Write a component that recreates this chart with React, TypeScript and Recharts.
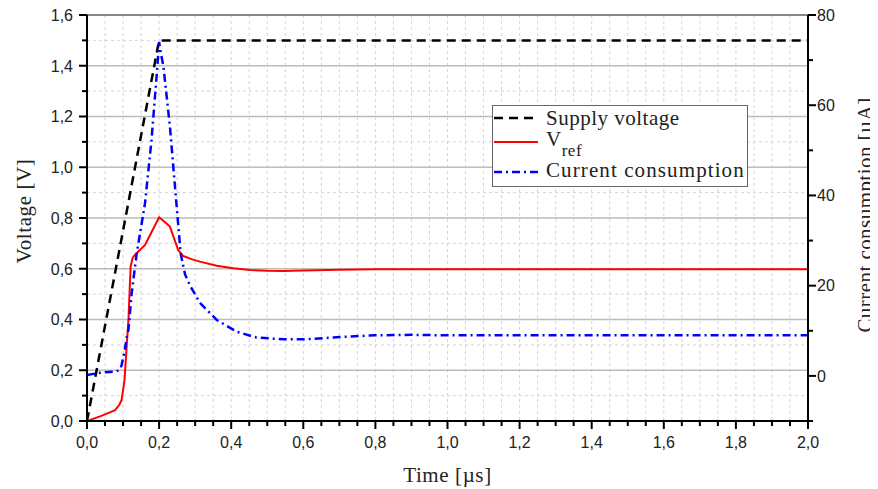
import React from "react";
import {
  CartesianGrid,
  ComposedChart,
  Line,
  ReferenceLine,
  XAxis,
  YAxis,
} from "recharts";

// Supply voltage [V]
const supplyT = [0, 0.2, 2.0];
const supplyV = [0, 1.5, 1.5];

// V_ref [V]
const vrefT = [
  0, 0.04, 0.078, 0.09, 0.096, 0.104, 0.11, 0.115, 0.121, 0.126, 0.13, 0.145,
  0.161, 0.175, 0.2, 0.215, 0.23, 0.253, 0.267, 0.29, 0.313, 0.36, 0.406, 0.452,
  0.5, 0.545, 0.6, 0.7, 0.8, 1.0, 1.2, 1.4, 1.6, 1.8, 2.0,
];
const vrefV = [
  0, 0.02, 0.043, 0.065, 0.083, 0.16, 0.293, 0.4, 0.608, 0.64, 0.65, 0.672,
  0.694, 0.733, 0.803, 0.785, 0.766, 0.674, 0.65, 0.638, 0.628, 0.612, 0.602,
  0.595, 0.592, 0.591, 0.593, 0.596, 0.598, 0.598, 0.598, 0.598, 0.598, 0.598,
  0.598,
];

// Current consumption [µA]
const currT = [
  0, 0.036, 0.082, 0.092, 0.096, 0.105, 0.11, 0.115, 0.124, 0.138, 0.161, 0.179,
  0.193, 0.2, 0.205, 0.212, 0.23, 0.244, 0.26, 0.272, 0.286, 0.313, 0.36, 0.415,
  0.47, 0.545, 0.6, 0.72, 0.8, 0.9, 1.0, 1.2, 1.4, 1.6, 1.8, 2.0,
];
const currI = [
  0.2, 0.7, 1.0, 1.5, 2.4, 5.8, 8.5, 10.2, 18.4, 27.2, 38.3, 52.3, 66.4, 74.0,
  71.5, 68.6, 55.3, 42, 27, 22.5, 20.0, 16.2, 12.4, 9.8, 8.5, 8.1, 8.1, 8.7, 9.0,
  9.1, 9.0, 9.0, 9.0, 9.0, 9.0, 9.0,
];

// axis ticks
const xMinor = Array.from({ length: 41 }, (_, i) => +(i * 0.05).toFixed(2));
const xMajor = [0, 0.2, 0.4, 0.6, 0.8, 1.0, 1.2, 1.4, 1.6, 1.8, 2.0];
const yMinor = Array.from({ length: 17 }, (_, i) => +(i * 0.1).toFixed(1));
const yMajor = [0, 0.2, 0.4, 0.6, 0.8, 1.0, 1.2, 1.4, 1.6];
const rTicks = [-10, 0, 10, 20, 30, 40, 50, 60, 70, 80];
const rLabels = [0, 20, 40, 60, 80];

const supply = supplyT.map((t, i) => ({ t, v: supplyV[i] }));
const vref = vrefT.map((t, i) => ({ t, v: vrefV[i] }));
const curr = currT.map((t, i) => ({ t, v: currI[i] }));

const sans = "'Liberation Sans', Arial, sans-serif";
const serif = "'Liberation Serif', 'Times New Roman', serif";
const comma = (v: number) => v.toFixed(1).replace(".", ",");
const isMajor = (v: number, step: number) =>
  Math.abs(v / step - Math.round(v / step)) < 1e-6;

const XTick = (props: any) => {
  const { x, y, payload } = props;
  const major = isMajor(payload.value, 0.2);
  return (
    <g>
      <line x1={x} x2={x} y1={y} y2={y + (major ? 8 : 5)} stroke="#000" strokeWidth={2} />
      {major && (
        <text x={x} y={y + 27} textAnchor="middle" fontFamily={sans} fontSize={16} fill="#222">
          {comma(payload.value)}
        </text>
      )}
    </g>
  );
};

const YTick = (props: any) => {
  const { x, y, payload } = props;
  const major = isMajor(payload.value, 0.2);
  return (
    <g>
      <line x1={x} x2={x - (major ? 8 : 5)} y1={y} y2={y} stroke="#000" strokeWidth={2} />
      {major && (
        <text x={x - 14} y={y} dy="0.36em" textAnchor="end" fontFamily={sans} fontSize={16} fill="#222">
          {comma(payload.value)}
        </text>
      )}
    </g>
  );
};

const RTick = (props: any) => {
  const { x, y, payload } = props;
  const major = rLabels.includes(payload.value);
  return (
    <g>
      <line x1={x} x2={x + (major ? 8 : 5)} y1={y} y2={y} stroke="#000" strokeWidth={2} />
      {major && (
        <text x={x + 9} y={y} dy="0.36em" textAnchor="start" fontFamily={sans} fontSize={16} fill="#222">
          {payload.value}
        </text>
      )}
    </g>
  );
};

const XTitle = (props: any) => {
  const { x, y, width } = props.viewBox;
  return (
    <text
      x={x + width / 2}
      y={y + 61}
      textAnchor="middle"
      fontFamily={serif}
      fontSize={21}
      letterSpacing={0.6}
      fill="#222"
    >
      Time [µs]
    </text>
  );
};

const VTitle = ({ cx, cy, text, ls }: { cx: number; cy: number; text: string; ls: number }) => (
  <text
    x={cx}
    y={cy}
    transform={`rotate(-90 ${cx} ${cy})`}
    textAnchor="middle"
    fontFamily={serif}
    fontSize={21}
    letterSpacing={ls}
    fill="#222"
  >
    {text}
  </text>
);

const LegendBox = () => (
  <div
    style={{
      position: "absolute",
      left: 484,
      top: 97,
      width: 256,
      height: 82,
      boxSizing: "border-box",
      border: "1px solid #666",
      background: "#fff",
    }}
  >
    <svg width={254} height={80} style={{ display: "block" }}>
      <line x1={1} x2={45} y1={12} y2={12} stroke="#000" strokeWidth={2.5} strokeDasharray="9 6" />
      <text x={53} y={19} fontFamily={serif} fontSize={21} letterSpacing={0.5} fill="#222">
        Supply voltage
      </text>
      <line x1={1} x2={45} y1={36} y2={36} stroke="#ff0000" strokeWidth={2} />
      <text x={53} y={40} fontFamily={serif} fontSize={21} letterSpacing={0.5} fill="#222">
        V
        <tspan fontSize={17} dy={10}>ref</tspan>
      </text>
      <line x1={1} x2={45} y1={66} y2={66} stroke="#0000ff" strokeWidth={2.5} strokeDasharray="8 4 2 4" />
      <text x={53} y={71} fontFamily={serif} fontSize={21} letterSpacing={1.1} fill="#222">
        Current consumption
      </text>
    </svg>
  </div>
);

export default function App() {
  return (
    <div style={{ position: "relative", width: 870, height: 481 }}>
      <ComposedChart width={870} height={481} margin={{ top: 7, right: 0, bottom: 0, left: 0 }}>
        <XAxis
          xAxisId="x"
          type="number"
          dataKey="t"
          domain={[0, 2]}
          ticks={xMinor}
          interval={0}
          allowDataOverflow
          height={68}
          tickSize={0}
          tickMargin={0}
          tickLine={false}
          tick={<XTick />}
          axisLine={{ stroke: "#000", strokeWidth: 2 }}
          label={<XTitle />}
        />
        <XAxis xAxisId="xMaj" type="number" domain={[0, 2]} ticks={xMajor} hide allowDataOverflow />
        <YAxis
          yAxisId="left"
          type="number"
          domain={[0, 1.6]}
          ticks={yMinor}
          interval={0}
          allowDataOverflow
          width={79}
          tickSize={0}
          tickMargin={0}
          tickLine={false}
          tick={<YTick />}
          axisLine={{ stroke: "#000", strokeWidth: 2 }}
        />
        <YAxis yAxisId="yMaj" type="number" domain={[0, 1.6]} ticks={yMajor} hide allowDataOverflow />
        <YAxis
          yAxisId="right"
          orientation="right"
          type="number"
          domain={[-10, 80]}
          ticks={rTicks}
          interval={0}
          allowDataOverflow
          width={70}
          tickSize={0}
          tickMargin={0}
          tickLine={false}
          tick={<RTick />}
          axisLine={{ stroke: "#000", strokeWidth: 2 }}
        />
        <CartesianGrid xAxisId="x" yAxisId="left" stroke="#d4d4d4" strokeDasharray="3 3" strokeWidth={1} />
        <CartesianGrid xAxisId="xMaj" yAxisId="yMaj" stroke="#bdbdbd" strokeWidth={1.5} />
        <ReferenceLine xAxisId="x" yAxisId="left" y={1.6} stroke="#444" strokeWidth={1} />
        <Line
          data={supply}
          xAxisId="x"
          yAxisId="left"
          dataKey="v"
          type="linear"
          stroke="#000"
          strokeWidth={2.5}
          strokeDasharray="9 6"
          dot={false}
          isAnimationActive={false}
        />
        <Line
          data={vref}
          xAxisId="x"
          yAxisId="left"
          dataKey="v"
          type="linear"
          stroke="#ff0000"
          strokeWidth={2}
          dot={false}
          isAnimationActive={false}
        />
        <Line
          data={curr}
          xAxisId="x"
          yAxisId="right"
          dataKey="v"
          type="linear"
          stroke="#0000ff"
          strokeWidth={2.5}
          strokeDasharray="8 4 2 4"
          dot={false}
          isAnimationActive={false}
        />
      </ComposedChart>
      <svg width={870} height={481} style={{ position: "absolute", left: 0, top: 0, pointerEvents: "none" }}>
        <VTitle cx={23} cy={203} text="Voltage [V]" ls={0.6} />
        <VTitle cx={864} cy={207} text="Current consumption [µA]" ls={0.45} />
      </svg>
      <LegendBox />
    </div>
  );
}
